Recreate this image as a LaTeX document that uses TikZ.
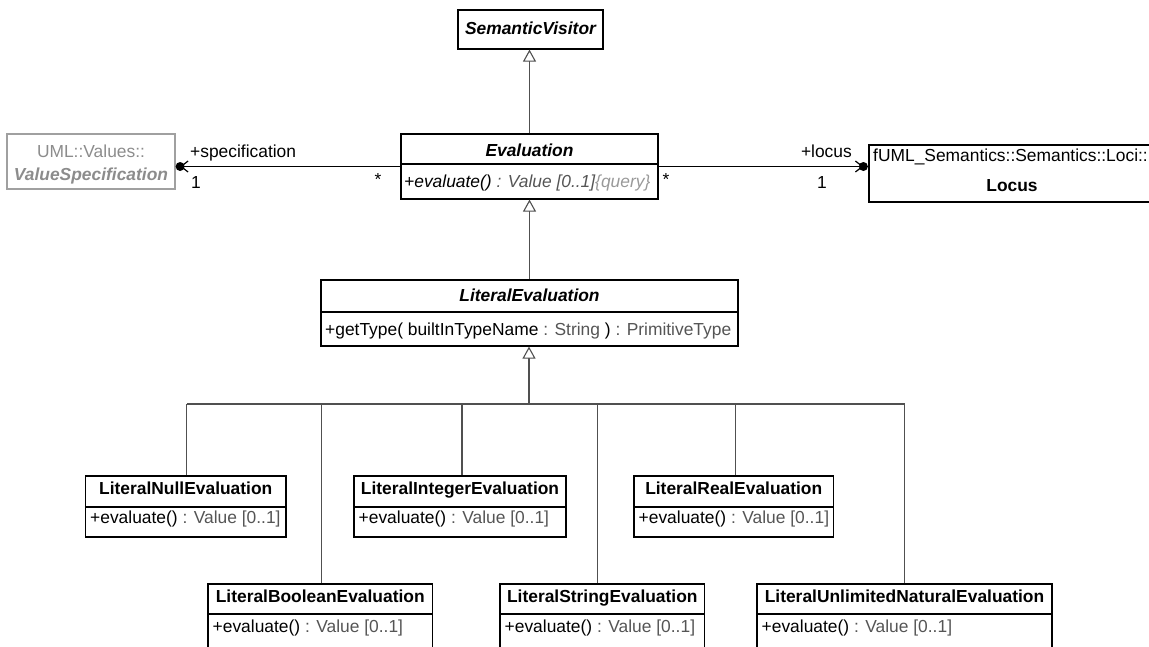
\documentclass[tikz,border=0pt]{standalone}
\usepackage{fontspec}
\setmainfont{Liberation Sans}
\usetikzlibrary{arrows.meta,calc}
\definecolor{typegray}{HTML}{555555}
\definecolor{querygray}{HTML}{999999}
\definecolor{vsgray}{HTML}{8C8C8C}
\definecolor{vsborder}{HTML}{A0A0A0}
\definecolor{linegray}{HTML}{505050}
\begin{document}
\begin{tikzpicture}[x=1pt,y=-1pt,
  every node/.style={font=\fontsize{17.4}{20}\selectfont, inner sep=0pt},
  box/.style={draw=black, line width=1.2pt, rectangle},
  graybox/.style={draw=vsborder, line width=1.2pt, rectangle},
  divider/.style={draw=black, line width=1.2pt},
  genline/.style={draw=linegray, line width=1.1pt},
  gen/.style={genline, -{Triangle[length=12pt,width=13pt,fill=white]}},
  assoc/.style={draw=black, line width=1.2pt, -{Straight Barb[length=7pt,width=11pt]}},
  title/.style={anchor=base, font=\fontsize{17.4}{20}\selectfont\bfseries},
  atitle/.style={anchor=base, font=\fontsize{17.4}{20}\selectfont\bfseries\itshape},
  attr/.style={anchor=base west},
  lbl/.style={anchor=base}]
\useasboundingbox (0,0) rectangle (1149,646);

% SemanticVisitor
\node[box, minimum width=145pt, minimum height=39pt] (sv) at (530.5,29.5) {};
\node[atitle] (svt) at (530.5,34) {SemanticVisitor};

% Evaluation
\node[box, minimum width=257pt, minimum height=65pt] (ev) at (529.5,166.5) {};
\draw[divider] (ev.west |- 0,164) -- (ev.east |- 0,164);
\node[atitle] (evt) at (529.5,156) {Evaluation};
\node[attr] (eva) at (404,187) {\itshape +evaluate() \textcolor{typegray}{: Value [0..1]}\textcolor{querygray}{\{query\}}};

% ValueSpecification
\node[graybox, minimum width=168pt, minimum height=55pt] (vs) at (91,161.5) {};
\node[lbl, text=vsgray] (vs1) at (91,157.5) {UML::Values::};
\node[lbl, text=vsgray, font=\fontsize{17.4}{20}\selectfont\bfseries\itshape] (vs2) at (91,180) {ValueSpecification};

% Locus
\node[box, minimum width=287pt, minimum height=57pt] (locus) at (1012.5,173.5) {};
\node[attr] (lc1) at (873,161) {fUML\_Semantics::Semantics::Loci::};
\node[title] (lc2) at (1012,191) {Locus};

% LiteralEvaluation
\node[box, minimum width=417pt, minimum height=66pt] (le) at (529.5,313) {};
\draw[divider] (le.west |- 0,312) -- (le.east |- 0,312);
\node[atitle] (let) at (529.5,301) {LiteralEvaluation};
\node[attr] (lea) at (325,335) {+getType( builtInTypeName \textcolor{typegray}{: String} ) \textcolor{typegray}{: PrimitiveType}};

% Row 1
\node[box, minimum width=200.5pt, minimum height=61pt] (lnull) at (185.75,506.5) {};
\node[box, minimum width=212pt, minimum height=61pt] (lint) at (460,506.5) {};
\node[box, minimum width=199.5pt, minimum height=61pt] (lreal) at (733.75,506.5) {};
\foreach \n in {lnull,lint,lreal} \draw[divider] (\n.west |- 0,507) -- (\n.east |- 0,507);
\node[title] (lnullt) at (185.75,494) {LiteralNullEvaluation};
\node[attr] (lnulla) at (90,523) {+evaluate() \textcolor{typegray}{: Value [0..1]}};
\node[title] (lintt) at (460,494) {LiteralIntegerEvaluation};
\node[attr] (linta) at (358.5,523) {+evaluate() \textcolor{typegray}{: Value [0..1]}};
\node[title] (lrealt) at (733.75,494) {LiteralRealEvaluation};
\node[attr] (lreala) at (638.5,523) {+evaluate() \textcolor{typegray}{: Value [0..1]}};

% Row 2
\node[box, minimum width=224.5pt, minimum height=66pt] (lbool) at (320.25,617) {};
\node[box, minimum width=204.6pt, minimum height=66pt] (lstr) at (602.3,617) {};
\node[box, minimum width=295pt, minimum height=66pt] (lunl) at (904.5,617) {};
\foreach \n in {lbool,lstr,lunl} \draw[divider] (\n.west |- 0,614) -- (\n.east |- 0,614);
\node[title] (lboolt) at (320.25,602) {LiteralBooleanEvaluation};
\node[attr] (lboola) at (212.5,632) {+evaluate() \textcolor{typegray}{: Value [0..1]}};
\node[title] (lstrt) at (602.3,602) {LiteralStringEvaluation};
\node[attr] (lstra) at (504.5,632) {+evaluate() \textcolor{typegray}{: Value [0..1]}};
\node[title] (lunlt) at (904.5,602) {LiteralUnlimitedNaturalEvaluation};
\node[attr] (lunla) at (761.5,632) {+evaluate() \textcolor{typegray}{: Value [0..1]}};

% Generalizations
\draw[gen] (ev.north) -- (ev.north |- sv.south);
\draw[gen] (le.north) -- (le.north |- ev.south);
\coordinate (tree) at (529,404);
\draw[gen] (tree) -- (tree |- le.south);
\draw[genline] ([xshift=1pt]lnull.north |- tree) -- (lunl.north |- tree);
\draw[genline] ([xshift=1pt]lnull.north) -- ([xshift=1pt]lnull.north |- tree);
\draw[genline] ([xshift=1pt]lbool.north) -- ([xshift=1pt]lbool.north |- tree);
\draw[genline] ([xshift=2pt]lint.north) -- ([xshift=2pt]lint.north |- tree);
\draw[genline] ([xshift=-5pt]lstr.north) -- ([xshift=-5pt]lstr.north |- tree);
\draw[genline] ([xshift=2pt]lreal.north) -- ([xshift=2pt]lreal.north |- tree);
\draw[genline] (lunl.north) -- (lunl.north |- tree);

% Associations
\coordinate (vsdot) at ([xshift=4.5pt]vs.east |- ev.west);
\draw[assoc] (ev.west) -- (vsdot);
\fill (vsdot) circle (4.5pt);
\coordinate (ldot) at ([xshift=-5pt]locus.west |- ev.east);
\draw[assoc] (ev.east) -- (ldot);
\fill (ldot) circle (4.5pt);

% Association labels
\node[anchor=base west] (spec) at (190,157) {+specification};
\node[anchor=base west] (spec1) at (191,188) {1};
\node[lbl] (specm) at (378,185) {*};
\node[anchor=base east] (loc) at (852,157) {+locus};
\node[lbl] (loc1) at (822,188) {1};
\node[lbl] (locm) at (666,185) {*};
\end{tikzpicture}
\end{document}
